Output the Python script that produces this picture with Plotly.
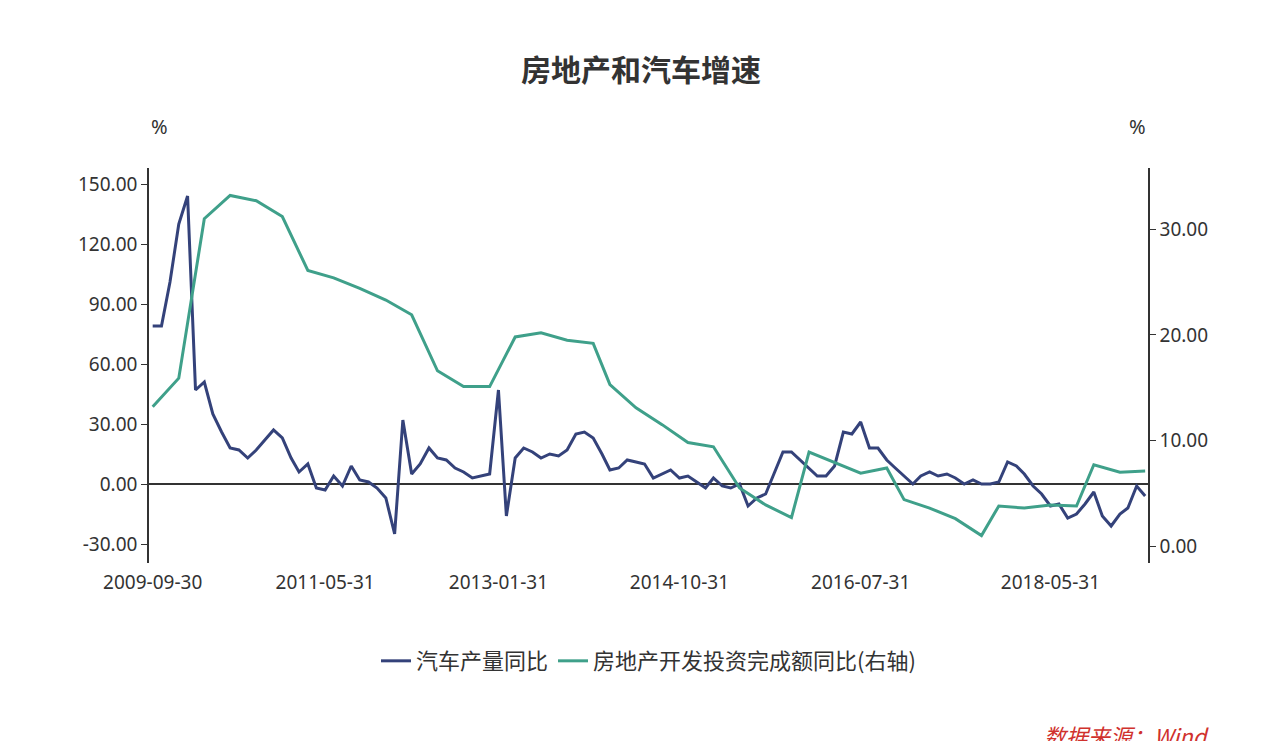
import pandas as pd
import plotly.graph_objects as go

auto = [79,79,101,130,144,47,51,35,26,18,17,13,17,22,27,23,13,6,10,-2,-3,4,-1,9,2,1,-2,-7,-25,32,5,10,18,13,12,8,6,3,4,5,47,-16,13,18,16,13,15,14,17,25,26,23,15,7,8,12,11,10,3,5,7,3,4,1,-2,3,-1,-2,0,-11,-7,-5,5,16,16,12,8,4,4,9,26,25,31,18,18,12,8,4,0,4,6,4,5,3,0,2,0,0,1,11,9,5,-1,-5,-11,-10,-17,-15,-10,-4,-16,-21,-15,-12,-1,-6]
dates = pd.date_range("2009-09-30", periods=len(auto), freq="ME")

re_idx = [0,3,6,9,12,15,18,21,24,27,30,33,36,39,42,45,48,51,53,56,59,62,65,68,71,74,76,79,82,85,87,90,93,96,98,101,104,107,109,112,115]
re_val = [13.2,15.9,31.0,33.2,32.7,31.2,26.1,25.4,24.4,23.3,21.9,16.6,15.1,15.1,19.8,20.2,19.5,19.2,15.3,13.1,11.5,9.8,9.4,5.5,3.9,2.7,8.9,7.9,6.9,7.4,4.4,3.6,2.6,1.0,3.8,3.6,3.9,3.8,7.7,7.0,7.1]
re_dates = [dates[min(i, len(dates)-1)] for i in re_idx]

tick_dates = ["2009-09-30","2011-05-31","2013-01-31","2014-10-31","2016-07-31","2018-05-31"]
left_ticks = [-30,0,30,60,90,120,150]
right_ticks = [0,10,20,30]

font = "Noto Sans, Noto Sans CJK SC, sans-serif"
fig = go.Figure()
fig.add_trace(go.Scatter(x=dates, y=auto, mode="lines", name="汽车产量同比",
                         line=dict(color="#34427a", width=3)))
fig.add_trace(go.Scatter(x=re_dates, y=re_val, mode="lines", name="房地产开发投资完成额同比(右轴)",
                         line=dict(color="#3fa08a", width=3), yaxis="y2"))
fig.update_layout(
    width=1266, height=741, plot_bgcolor="white", paper_bgcolor="white",
    margin=dict(l=141, r=126, t=160, b=186, autoexpand=False),
    font=dict(family=font, size=19, color="#333"),
    title=dict(text="<b>房地产和汽车增速</b>", x=0.5, xanchor="center", y=0.915, yanchor="middle",
               font=dict(size=30, color="#333", family="Noto Sans CJK SC")),
    xaxis=dict(type="date", range=["2009-09-17", "2019-05-10"], tickvals=tick_dates, automargin=False,
               ticktext=tick_dates, showgrid=False, showline=False, ticks="", ticklabelstandoff=6),
    yaxis=dict(range=[-39.5, 158], tickvals=left_ticks, ticktext=[f"{v:.2f}" for v in left_ticks],
               automargin=False, showgrid=False, showline=True, linecolor="#333", linewidth=1.5, ticks="outside",
               ticklen=6, tickcolor="#333", zeroline=True, zerolinecolor="#333", zerolinewidth=1.5),
    yaxis2=dict(range=[-1.6, 35.8], tickvals=right_ticks, ticktext=[f"{v:.2f}" for v in right_ticks],
                automargin=False, overlaying="y", side="right", showgrid=False, showline=True, linecolor="#333",
                linewidth=1.5, ticks="outside", ticklen=6, tickcolor="#333", zeroline=False),
    legend=dict(orientation="h", x=0.5, xanchor="center", y=-0.195, yanchor="top",
                font=dict(size=22, family="Noto Sans CJK SC")),
    showlegend=True,
)
fig.add_annotation(text="%", x=0, xref="paper", y=1.105, yref="paper", yanchor="middle", showarrow=False, font=dict(size=20))
fig.add_annotation(text="%", x=1, xref="paper", y=1.105, yref="paper", yanchor="middle", showarrow=False, font=dict(size=20))
fig.add_annotation(text="<i>数据来源：Wind</i>", x=1.063, xref="paper", xanchor="right", y=-0.435, yref="paper",
                   yanchor="middle", showarrow=False, font=dict(size=22, color="#d0312d", family="Noto Sans CJK SC, serif"))
fig.write_html("out.html")
